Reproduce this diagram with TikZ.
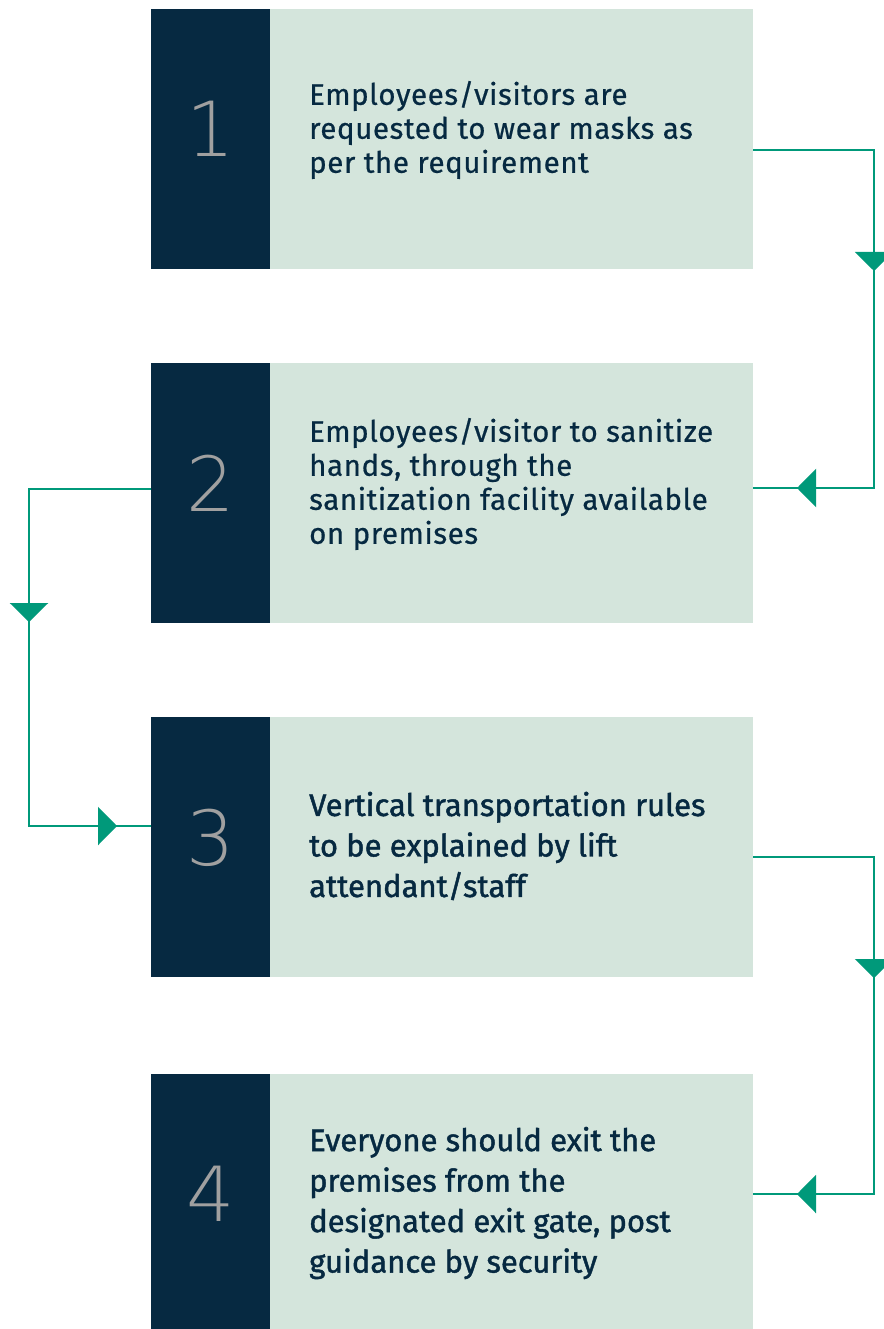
\documentclass[tikz,border=0pt]{standalone}
\usepackage{fontspec}
\setmainfont{Fira Sans}
\newfontfamily\numfont{DejaVu Sans ExtraLight}
\usetikzlibrary{positioning,calc,arrows.meta,decorations.markings}
\definecolor{stepnavy}{HTML}{062941}
\definecolor{stepmint}{HTML}{D4E5DC}
\definecolor{flowteal}{HTML}{00997A}
\definecolor{numgrey}{HTML}{A0A0A0}
\tikzset{
	numbox/.style={fill=stepnavy, minimum width=119pt, minimum height=260pt,
		inner sep=0pt, outer sep=0pt, text=numgrey, text depth=20pt,
		font=\numfont\fontsize{76}{76}\selectfont},
	stepbox/.style={fill=stepmint, minimum width=483pt, minimum height=260pt,
		inner sep=0pt, outer sep=0pt},
	steptext/.style={anchor=west, align=left, inner sep=0pt, text=stepnavy,
		font=\fontsize{29.5}{34}\selectfont\addfontfeatures{LetterSpace=2,FakeBold=0.6}},
	steptext tall/.style={steptext,
		font=\fontsize{31}{40.5}\selectfont\addfontfeatures{FakeBold=1.4}},
	flow/.style={draw=flowteal, color=flowteal, line width=2.5pt},
	tips at/.style 2 args={postaction={decorate}, decoration={markings,
		mark=at position #1 with {\arrow{Triangle[width=38pt,length=19pt]}},
		mark=at position #2 with {\arrow{Triangle[width=38pt,length=19pt]}}}}
}
\begin{document}
\begin{tikzpicture}[x=1pt, y=-1pt]
	\useasboundingbox (0,0) rectangle (883,1329);
	% steps
	\node[numbox] (n1) at (210.5,139) {1};
	\node[stepbox, right=0pt of n1] (s1) {};
	\node[steptext] (t1) at ($(s1.west)+(39,-9)$)
		{Employees/visitors are\\requested to wear masks as\\per the requirement};
	\node[numbox] (n2) at (210.5,493) {2};
	\node[stepbox, right=0pt of n2] (s2) {};
	\node[steptext] (t2) at ($(s2.west)+(39,-9)$)
		{Employees/visitor to sanitize\\hands, through the\\sanitization facility available\\on premises};
	\node[numbox] (n3) at (210.5,847) {3};
	\node[stepbox, right=0pt of n3] (s3) {};
	\node[steptext tall] (t3) at ($(s3.west)+(39,-1)$)
		{Vertical transportation rules\\to be explained by lift\\attendant/staff};
	\node[numbox] (n4) at (210.5,1204) {4};
	\node[stepbox, right=0pt of n4] (s4) {};
	\node[steptext tall] (t4) at ($(s4.west)+(39,-1)$)
		{Everyone should exit the\\premises from the\\designated exit gate, post\\guidance by security};
	% connectors
	\draw[flow, tips at={242pt}{-44pt}] ($(s1.east)+(0,11)$) -- ++(121,0) |- ($(s2.east)+(0,-5)$);
	\draw[flow, tips at={255pt}{-34pt}] ($(n2.west)+(0,-4)$) -- ++(-122,0) |- ($(n3.west)+(0,-21)$);
	\draw[flow, tips at={242pt}{-44pt}] ($(s3.east)+(0,10)$) -- ++(121,0) |- ($(s4.east)+(0,-10)$);
\end{tikzpicture}
\end{document}
